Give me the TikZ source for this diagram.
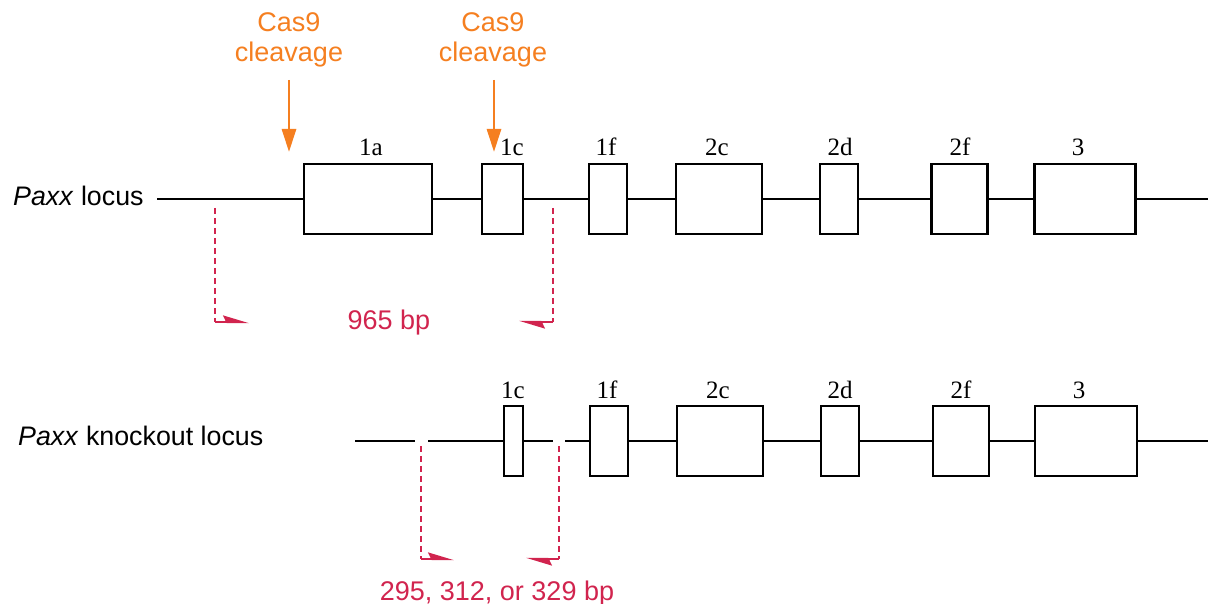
\documentclass[tikz,border=0pt]{standalone}
\usepackage{fontspec}
\setmainfont{Liberation Serif}
\setsansfont{Liberation Sans}
\usetikzlibrary{arrows.meta}
\definecolor{cutorange}{RGB}{245,127,32}
\definecolor{primerred}{RGB}{209,36,78}
\tikzset{
  exon/.style={draw=black, line width=2.8pt, fill=white, inner sep=0pt,
               minimum height=70pt},
  exlab/.style={font=\fontsize{25}{25}\selectfont\rmfamily, anchor=base, inner sep=0pt},
  strand/.style={line width=2.8pt, black},
  locuslab/.style={font=\fontsize{26.8}{26.8}\selectfont\sffamily, anchor=base west, inner sep=0pt},
  cutlab/.style={font=\fontsize{27}{30}\selectfont\sffamily, text=cutorange, align=center, inner sep=0pt},
  cutarrow/.style={cutorange, line width=2.8pt, -{Triangle[length=23pt, width=14pt]}},
  primerline/.style={primerred, line width=2.3pt, dash pattern=on 6pt off 4pt},
  primertip/.style={primerred, line width=2.3pt, -{Stealth[harpoon, length=22pt, width=13pt, inset=3pt]}},
  sizelab/.style={font=\fontsize{27}{27}\selectfont\sffamily, text=primerred, anchor=base, inner sep=0pt},
}
\begin{document}
\begin{tikzpicture}[x=1pt, y=-1pt]
\useasboundingbox (0,0) rectangle (1208,604);

% ---------- wild-type locus ----------
\node[locuslab] (wtname) at (13,206) {\textit{Paxx} locus};

\node[exon, minimum width=128pt] (a1a) at (368,199) {};
\node[exon, minimum width=41pt]  (a1c) at (502.5,199) {};
\node[exon, minimum width=38pt]  (a1f) at (608,199) {};
\node[exon, minimum width=86pt]  (a2c) at (719,199) {};
\node[exon, minimum width=38pt]  (a2d) at (839,199) {};
\node[exon, minimum width=56pt]  (a2f) at (959.5,199) {};
\node[exon, minimum width=101pt] (a3)  at (1085,199) {};

\coordinate (wtstart) at (157,199);
\coordinate (wtend) at (1208,199);
\draw[strand] (wtstart) -- (a1a.west);
\draw[strand] (a1a.east) -- (a1c.west);
\draw[strand] (a1c.east) -- (a1f.west);
\draw[strand] (a1f.east) -- (a2c.west);
\draw[strand] (a2c.east) -- (a2d.west);
\draw[strand] (a2d.east) -- (a2f.west);
\draw[strand] (a2f.east) -- (a3.west);
\draw[strand] (a3.east) -- (wtend);

\node[exlab] (la1a) at (371,156) {1a};
\node[exlab] (la1c) at (512,156) {1c};
\node[exlab] (la1f) at (606,156) {1f};
\node[exlab] (la2c) at (717,156) {2c};
\node[exlab] (la2d) at (840,156) {2d};
\node[exlab] (la2f) at (960,156) {2f};
\node[exlab] (la3)  at (1078,156) {3};

% Cas9 cut sites
\node[cutlab] (cutA) at (289,40) {Cas9\\cleavage};
\node[cutlab] (cutB) at (493,40) {Cas9\\cleavage};
\coordinate (cutAtop) at (289,80);
\coordinate (cutAtip) at (289,152);
\coordinate (cutBtop) at (494,80);
\coordinate (cutBtip) at (494,152);
\draw[cutarrow] (cutAtop) -- (cutAtip);
\draw[cutarrow] (cutBtop) -- (cutBtip);

% PCR primers on the wild-type locus
\coordinate (wfTop) at (215,208);
\coordinate (wfCorner) at (215,322);
\coordinate (wfTip) at (249,322);
\coordinate (wrTop) at (553,208);
\coordinate (wrCorner) at (553,322);
\coordinate (wrTip) at (519,322);
\draw[primerline] (wfTop) -- (wfCorner);
\draw[primertip] (wfCorner) -- (wfTip);
\draw[primerline] (wrTop) -- (wrCorner);
\draw[primertip] (wrCorner) -- (wrTip);
\node[sizelab] (wtsize) at (389,329) {965 bp};

% ---------- knockout locus ----------
\node[locuslab] (koname) at (18,445) {\textit{Paxx} knockout locus};

\node[exon, minimum width=19pt]  (b1c) at (513.5,441) {};
\node[exon, minimum width=38pt]  (b1f) at (609,441) {};
\node[exon, minimum width=86pt]  (b2c) at (720,441) {};
\node[exon, minimum width=38pt]  (b2d) at (840,441) {};
\node[exon, minimum width=56pt]  (b2f) at (961,441) {};
\node[exon, minimum width=102pt] (b3)  at (1086,441) {};

\coordinate (kostart) at (355,441);
\coordinate (koend) at (1208,441);
\draw[strand] (kostart) -- (b1c.west);
\draw[strand] (b1c.east) -- (b1f.west);
\draw[strand] (b1f.east) -- (b2c.west);
\draw[strand] (b2c.east) -- (b2d.west);
\draw[strand] (b2d.east) -- (b2f.west);
\draw[strand] (b2f.east) -- (b3.west);
\draw[strand] (b3.east) -- (koend);

% small breaks in the strand above the primers
\draw[white, line width=3.2pt] (415,441) -- (428,441);
\draw[white, line width=3.2pt] (553,441) -- (565,441);

\node[exlab] (lb1c) at (513,398) {1c};
\node[exlab] (lb1f) at (607,398) {1f};
\node[exlab] (lb2c) at (718,398) {2c};
\node[exlab] (lb2d) at (840,398) {2d};
\node[exlab] (lb2f) at (961,398) {2f};
\node[exlab] (lb3)  at (1079,398) {3};

% PCR primers on the knockout locus
\coordinate (kfTop) at (421,446);
\coordinate (kfCorner) at (421,559);
\coordinate (kfTip) at (454,559);
\coordinate (krTop) at (559,446);
\coordinate (krCorner) at (559,559);
\coordinate (krTip) at (526,559);
\draw[primerline] (kfTop) -- (kfCorner);
\draw[primertip] (kfCorner) -- (kfTip);
\draw[primerline] (krTop) -- (krCorner);
\draw[primertip] (krCorner) -- (krTip);
\node[sizelab] (kosize) at (497,600) {295, 312, or 329 bp};
\end{tikzpicture}
\end{document}
